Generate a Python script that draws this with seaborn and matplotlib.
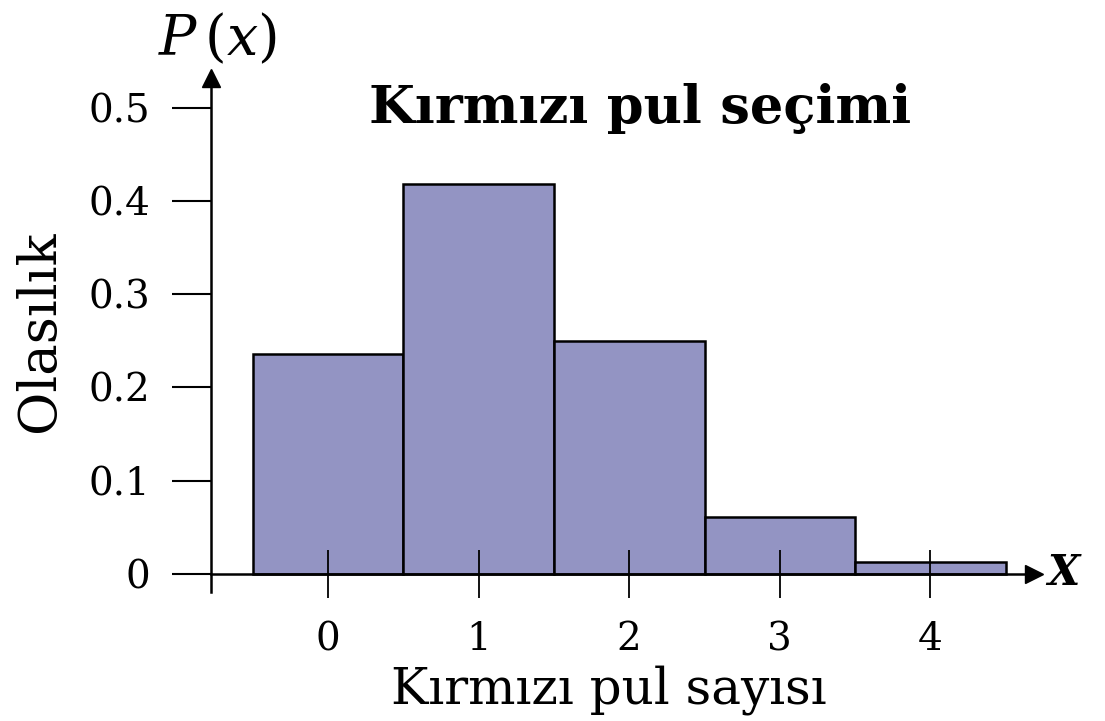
import matplotlib
matplotlib.use("Agg")
import matplotlib.pyplot as plt
import seaborn as sns

# Data
counts = [0, 1, 2, 3, 4]
probs = [0.236, 0.418, 0.25, 0.061, 0.013]
y_ticks = [0, 0.1, 0.2, 0.3, 0.4, 0.5]
y_tick_labels = ["0", "0.1", "0.2", "0.3", "0.4", "0.5"]

title = "Kırmızı pul seçimi"
x_label = "Kırmızı pul sayısı"
y_label = "Olasılık"

BAR_COLOR = "#9394c3"

sns.set_style("white")
plt.rcParams["font.family"] = ["DejaVu Serif"]
plt.rcParams["mathtext.fontset"] = "dejavuserif"
plt.rcParams["text.color"] = "black"
plt.rcParams["xtick.color"] = "black"
plt.rcParams["ytick.color"] = "black"

fig = plt.figure(figsize=(11.05, 7.21), dpi=100)
ax = fig.add_axes([0.191, 0.179, 0.745, 0.713])

sns.barplot(x=counts, y=probs, width=1.0, color=BAR_COLOR, saturation=1,
            edgecolor="black", linewidth=1.8, ax=ax)

ax.set_xlim(-0.777, 4.69)
ax.set_ylim(-0.0193, 0.532)
ax.set_axisbelow(False)  # tick marks cross the bars

# axes with arrows
for side in ["top", "right"]:
    ax.spines[side].set_visible(False)
ax.spines["bottom"].set_position(("data", 0))
for side in ["left", "bottom"]:
    ax.spines[side].set_linewidth(1.8)
    ax.spines[side].set_color("black")
ax.plot(1, 0, ">", color="black", ms=13, transform=ax.get_yaxis_transform(), clip_on=False)
ax.plot(0, 1, "^", color="black", ms=13, transform=ax.transAxes, clip_on=False)

ax.set_yticks(y_ticks)
ax.set_yticklabels(y_tick_labels)
ax.tick_params(axis="x", direction="inout", length=34, width=1.3, pad=17,
               labelsize=28, colors="black", bottom=True)
ax.tick_params(axis="y", direction="out", length=28, width=1.5, pad=16,
               labelsize=28, colors="black", left=True)
ax.set_xlabel("")
ax.set_ylabel("")

fig.text(0.579, 0.850, title, fontsize=38, fontweight="bold", ha="center", va="center")
fig.text(0.551, 0.043, x_label, fontsize=36, ha="center", va="center")
fig.text(0.036, 0.540, y_label, fontsize=38, rotation=90, ha="center", va="center")
fig.text(0.197, 0.945, r"$P\,(x)$", fontsize=40, ha="center", va="center")
fig.text(0.962, 0.205, "X", fontsize=30, fontweight="bold", style="italic",
         ha="center", va="center")

fig.savefig("out.png", dpi=100)
